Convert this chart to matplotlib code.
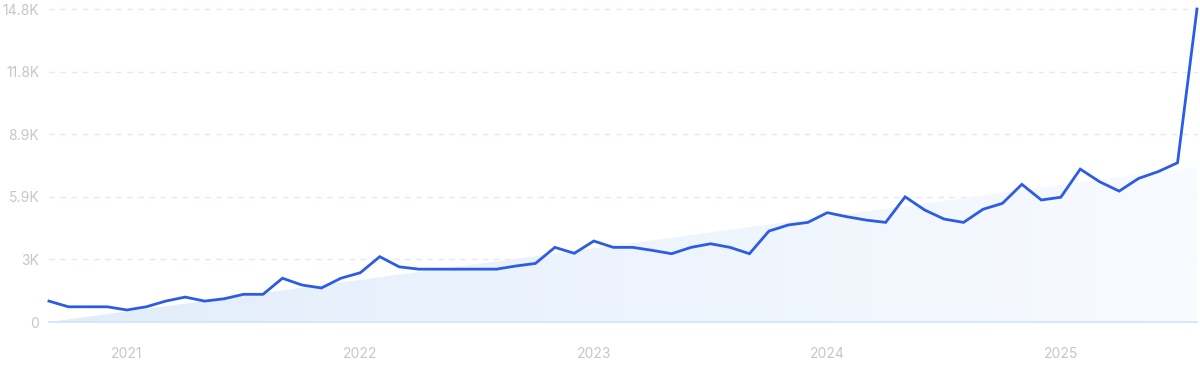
import numpy as np
import matplotlib
matplotlib.use("Agg")
import matplotlib.pyplot as plt
from matplotlib.colors import LinearSegmentedColormap

# monthly values, Sep 2020 -> Aug 2025 (thousands)
values_k = [0.99, 0.72, 0.72, 0.72, 0.57, 0.72, 0.99, 1.18, 0.99, 1.10,
            1.31, 1.31, 2.07, 1.75, 1.61, 2.07, 2.33, 3.09, 2.61, 2.50,
            2.50, 2.50, 2.50, 2.50, 2.65, 2.77, 3.53, 3.25, 3.83, 3.53,
            3.53, 3.39, 3.23, 3.53, 3.70, 3.53, 3.23, 4.30, 4.59, 4.71,
            5.17, 4.98, 4.82, 4.71, 5.92, 5.30, 4.87, 4.71, 5.33, 5.61,
            6.51, 5.77, 5.90, 7.23, 6.63, 6.19, 6.79, 7.11, 7.53, 14.8]
values = np.array(values_k) * 1000

# trend band end points (thousands)
trend_start_k = 0.0
trend_end_k = 7.35

year_labels = ["2021", "2022", "2023", "2024", "2025"]
year_index = [4, 16, 28, 40, 52]   # January of each year

y_ticks = [0, 2960, 5920, 8880, 11840, 14800]
y_tick_labels = ["0", "3K", "5.9K", "8.9K", "11.8K", "14.8K"]

plt.rcParams['font.family'] = ['Inter', 'DejaVu Sans']

fig = plt.figure(figsize=(12, 3.71), dpi=100)
ax = fig.add_axes([0.0408, 0.132, 0.9567, 0.8437])

x = np.arange(len(values))
n_last = len(values) - 1

# trend area with horizontal gradient
tx = [0, n_last]
ty = [trend_start_k * 1000, trend_end_k * 1000]
poly = ax.fill_between(tx, 0, ty, facecolor='none', edgecolor='none')
cmap = LinearSegmentedColormap.from_list('fade', ['#e2edfb', '#f8fbff'])
grad = np.linspace(0, 1, 256).reshape(1, -1)
img = ax.imshow(grad, cmap=cmap, aspect='auto', extent=[0, n_last, 0, 14800],
                origin='lower', zorder=1)
img.set_clip_path(poly.get_paths()[0], transform=ax.transData)

# baseline
ax.plot([0, n_last], [0, 0], color='#d3e6fb', lw=1.3, zorder=2, clip_on=False)

# grid
for yt in y_ticks[1:]:
    ax.plot([0, n_last], [yt, yt], color='#e0e9f7', lw=1.0,
            dashes=(4, 4), zorder=0.5, clip_on=False)

ax.plot(x, values, color='#2d5ce4', lw=2.0, solid_joinstyle='miter',
        zorder=3, clip_on=False)

ax.set_xlim(0, n_last)
ax.set_ylim(0, 14800)
ax.set_yticks(y_ticks)
ax.set_yticklabels(y_tick_labels)
ax.set_xticks(year_index)
ax.set_xticklabels(year_labels)
ax.tick_params(axis='both', length=0, colors='#c5c6cf', labelsize=10)
ax.tick_params(axis='x', pad=18)
ax.tick_params(axis='y', pad=7)
for s in ax.spines.values():
    s.set_visible(False)

fig.savefig('out.png', dpi=100)
